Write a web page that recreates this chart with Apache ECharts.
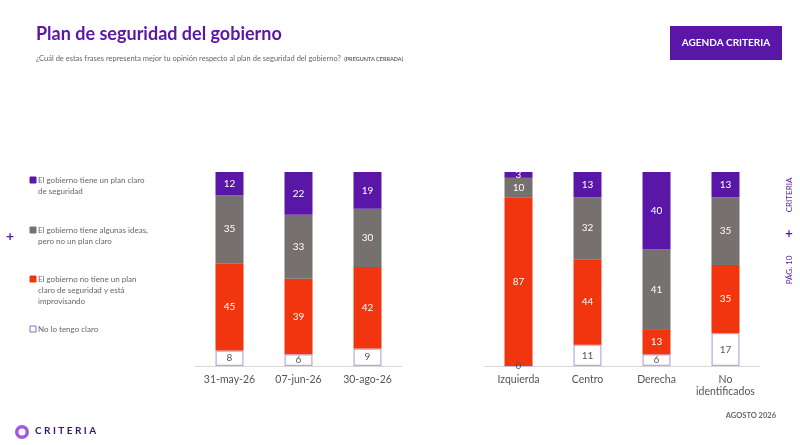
<!DOCTYPE html>
<html><head><meta charset="utf-8">
<script src="https://cdn.jsdelivr.net/npm/echarts@6/dist/echarts.min.js"></script>
<style>html,body{margin:0;padding:0;background:#fff}#c{width:800px;height:445px}</style>
</head><body><div id="c"></div>
<script>
// datos
var fechas = ['31-may-26', '07-jun-26', '30-ago-26'];
var grupos = ['Izquierda', 'Centro', 'Derecha', 'No\nidentificados'];
var nombres = ['No lo tengo claro', 'El gobierno no tiene un plan claro de seguridad y está improvisando',
    'El gobierno tiene algunas ideas, pero no un plan claro', 'El gobierno tiene un plan claro de seguridad'];
var fNoClaro = [8, 6, 9], fImprov = [45, 39, 42], fIdeas = [35, 33, 30], fPlan = [12, 22, 19];
var gNoClaro = [0, 11, 6, 17], gImprov = [87, 44, 13, 35], gIdeas = [10, 32, 41, 35], gPlan = [3, 13, 40, 13];

var PURPLE = '#5a16a6', GREY = '#76706f', RED = '#f0350f', BORDER = '#b9a8dd';
var colores = ['#ffffff', RED, GREY, PURPLE];

var chart = echarts.init(document.getElementById('c'));

function serie(idx, data, k) {
    var blanco = k === 0;
    return {
        name: nombres[k], type: 'bar', stack: 's' + idx, xAxisIndex: idx, yAxisIndex: idx,
        barWidth: 28, data: data,
        itemStyle: {color: colores[k], borderColor: blanco ? BORDER : colores[k], borderWidth: blanco ? 1.2 : 0},
        label: {show: true, position: 'inside', color: blanco ? '#555' : '#fff', fontSize: 10,
            fontFamily: 'Lato'}
    };
}

var series = [];
[fNoClaro, fImprov, fIdeas, fPlan].forEach(function (d, k) { series.push(serie(0, d, k)); });
[gNoClaro, gImprov, gIdeas, gPlan].forEach(function (d, k) { series.push(serie(1, d, k)); });

function eje(cats, i) {
    return {type: 'category', data: cats, gridIndex: i,
        axisLine: {lineStyle: {color: '#d9d9d9'}}, axisTick: {show: false},
        axisLabel: {color: '#555', fontSize: 10.5, fontFamily: 'Lato', margin: 8, lineHeight: 12, interval: 0}};
}
function ejeY(i) {
    return {type: 'value', min: 0, max: 100, gridIndex: i, show: false};
}

var leyenda = [
    [PURPLE, 'El gobierno tiene un plan claro\nde seguridad', 180],
    [GREY, 'El gobierno tiene algunas ideas,\npero no un plan claro', 230],
    [RED, 'El gobierno no tiene un plan\nclaro de seguridad y está\nimprovisando', 279],
    ['#fff', 'No lo tengo claro', 329]
];
var graficos = [
    {type: 'text', left: 36, top: 25, style: {text: 'Plan de seguridad del gobierno', fill: PURPLE,
        font: 'bold 18px Lato'}},
    {type: 'text', left: 36, top: 53, style: {
        text: '{a|¿Cuál de estas frases representa mejor tu opinión respecto al plan de seguridad del gobierno?} {b|(PREGUNTA CERRADA)}',
        rich: {a: {fill: '#666', font: '7.5px Lato'},
            b: {fill: '#666', font: 'bold 5.5px Lato', textDecoration: 'underline'}}}},
    {type: 'rect', shape: {x: 670, y: 26, width: 112, height: 34}, style: {fill: PURPLE}},
    {type: 'text', x: 726, y: 43, style: {text: 'AGENDA CRITERIA', fill: '#fff', font: 'bold 10px Lato',
        align: 'center', verticalAlign: 'middle'}},
    {type: 'text', x: 10, y: 236, style: {text: '+', fill: PURPLE, font: 'bold 14px Lato',
        align: 'center', verticalAlign: 'middle'}},
    {type: 'text', x: 789, y: 195, rotation: Math.PI / 2, style: {text: 'CRITERIA', fill: PURPLE,
        font: '8px Lato', align: 'center', verticalAlign: 'middle'}},
    {type: 'text', x: 789, y: 234, style: {text: '+', fill: PURPLE, font: 'bold 13px Lato',
        align: 'center', verticalAlign: 'middle'}},
    {type: 'text', x: 789, y: 270, rotation: Math.PI / 2, style: {text: 'PÁG. 10', fill: PURPLE,
        font: '8px Lato', align: 'center', verticalAlign: 'middle'}},
    {type: 'text', right: 24, top: 412, style: {text: 'AGOSTO 2026', fill: '#666', font: 'bold 7.5px Lato'}},
    {type: 'ring', shape: {cx: 22, cy: 432, r: 7, r0: 3.5}, style: {fill: '#a25be0'}},
    {type: 'text', left: 35, top: 426, style: {text: 'C R I T E R I A', fill: '#3b1670', font: 'bold 10px Lato'}}
];
leyenda.forEach(function (l) {
    graficos.push({type: 'rect', shape: {x: 30, y: l[2] - 3, width: 6, height: 6},
        style: {fill: l[0], stroke: l[0] === '#fff' ? '#8a6cc8' : l[0], lineWidth: 1}});
    graficos.push({type: 'text', left: 38, top: l[2] - 5, style: {text: l[1], fill: '#666',
        font: '8px Lato', lineHeight: 11}});
});

chart.setOption({
    animation: false,
    grid: [
        {left: 195, width: 207, top: 172, bottom: 79},
        {left: 484, width: 276, top: 172, bottom: 79}
    ],
    xAxis: [eje(fechas, 0), eje(grupos, 1)],
    yAxis: [ejeY(0), ejeY(1)],
    series: series,
    graphic: graficos
});
</script></body></html>
